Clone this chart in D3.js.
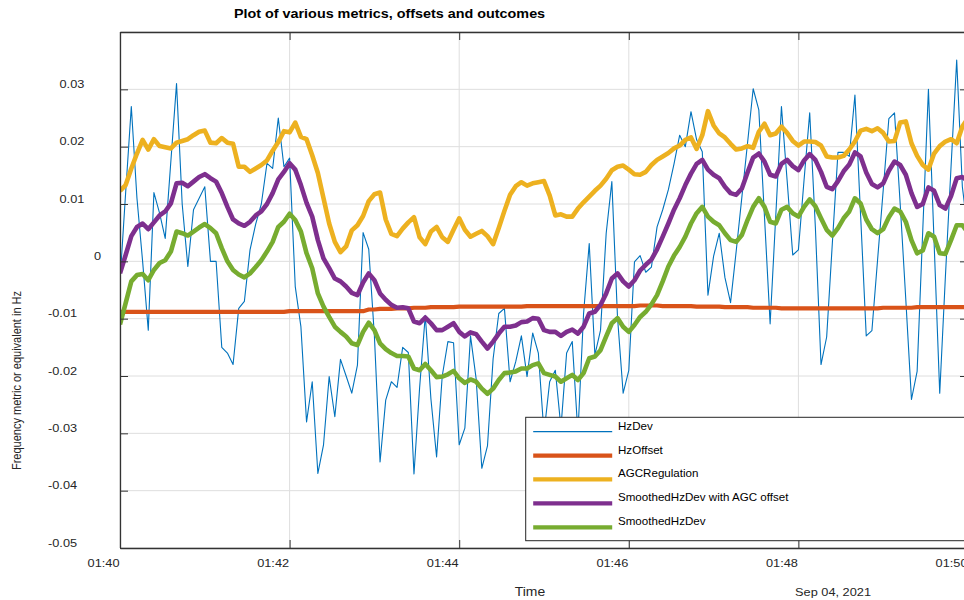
<!DOCTYPE html>
<html>
<head>
<meta charset="utf-8">
<script src="https://cdn.jsdelivr.net/npm/d3@7"></script>
<style>
  html, body { margin: 0; padding: 0; background: #ffffff; overflow: hidden; }
  svg { display: block; font-family: "Liberation Sans", Arial, Helvetica, sans-serif; }
</style>
</head>
<body>
<svg id="chart" width="964" height="600"></svg>
<script>
// ---- time base (one sample every 4 s) ----
const startTime = "2021-09-04T01:40:00Z";
const endTime = "2021-09-04T01:50:00Z";
const sampleSeconds = 4;
const dateLabel = "Sep 04, 2021";

// ---- axis ticks ----
const yTickValues = [-0.05, -0.04, -0.03, -0.02, -0.01, 0, 0.01, 0.02, 0.03];
const yGridValues = [-0.05, -0.04, -0.03, -0.02, -0.01, 0, 0.01, 0.02, 0.03, 0.04];
const xTickMinutes = 2;

// ---- legend entries, in drawing order ----
const seriesNames = ["HzDev", "HzOffset", "AGCRegulation", "SmoothedHzDev with AGC offset", "SmoothedHzDev"];

// ---- series values, in mHz ----
const hzDev = [
  -3.5, 12.0, 27.0, 11.0, 0.0, -12.0, 12.0, 8.4, 4.0, 17.5,
  31.0, 10.0, -0.9, 9.0, 11.0, 13.0, 0.0, 0.0, -15.0, -16.0,
  -18.0, -8.2, -7.0, 2.0, 6.5, 10.0, 17.1, 16.2, 25.0, 16.5,
  18.0, -4.4, -11.4, -28.0, -21.0, -37.0, -32.0, -20.1, -27.1, -17.1,
  -20.0, -23.0, -18.1, 5.0, 2.1, -13.0, -35.0, -24.2, -21.0, -22.0,
  -15.0, -15.9, -37.1, -22.0, -9.4, -24.0, -34.1, -20.0, -14.0, -14.2,
  -32.0, -29.1, -13.0, -20.5, -36.1, -32.2, -17.0, -9.1, -8.2, -21.0,
  -17.5, -13.0, -20.1, -12.5, -16.0, -30.0, -21.0, -19.0, -29.0, -16.0,
  -14.0, -30.0, -9.1, 3.1, -16.3, -12.0, 4.9, 13.9, -9.7, -23.0,
  -19.0, -0.1, 1.0, -1.9, -1.0, 6.0, 9.0, 12.5, 17.0, 22.0,
  20.0, 26.1, 21.2, 19.1, -5.9, 0.9, 4.9, -2.8, -7.2, 1.8,
  11.2, 20.6, 30.1, 26.4, 7.8, -10.9, 8.0, 27.0, 14.2, 1.1,
  2.0, 14.2, 25.9, 6.0, -18.0, -13.2, 3.1, 19.0, 19.0, 18.3,
  29.0, 8.1, -13.0, -12.1, 0.2, 12.4, 24.9, 25.9, 10.1, -6.7,
  -24.1, -19.2, 5.5, 30.0, 3.4, -23.0, -2.7, 16.5, 35.1, 13.0,
  5.0
];

const hzOffset = [
  -8.8, -8.8, -8.8, -8.8, -8.8, -8.8, -8.8, -8.8, -8.8, -8.8,
  -8.8, -8.8, -8.8, -8.8, -8.8, -8.8, -8.8, -8.8, -8.8, -8.8,
  -8.8, -8.8, -8.8, -8.8, -8.8, -8.8, -8.8, -8.8, -8.8, -8.8,
  -8.7, -8.7, -8.7, -8.7, -8.7, -8.7, -8.7, -8.7, -8.7, -8.7,
  -8.7, -8.7, -8.7, -8.7, -8.4, -8.4, -8.3, -8.3, -8.3, -8.2,
  -8.2, -8.2, -8.1, -8.1, -8.1, -8.0, -8.0, -8.0, -8.0, -8.0,
  -7.9, -7.9, -7.9, -7.9, -7.9, -7.9, -7.9, -7.9, -7.9, -7.9,
  -7.9, -7.9, -7.8, -7.8, -7.8, -7.8, -7.8, -7.8, -7.8, -7.8,
  -7.8, -7.8, -7.8, -7.8, -7.8, -7.8, -7.8, -7.8, -7.8, -7.8,
  -7.8, -7.8, -7.7, -7.7, -7.7, -7.7, -7.8, -7.8, -7.8, -7.8,
  -7.8, -7.8, -7.9, -7.9, -7.9, -7.9, -7.9, -8.0, -8.0, -8.0,
  -8.0, -8.0, -8.1, -8.1, -8.1, -8.1, -8.1, -8.2, -8.2, -8.2,
  -8.2, -8.2, -8.2, -8.2, -8.2, -8.2, -8.2, -8.2, -8.2, -8.2,
  -8.2, -8.2, -8.2, -8.2, -8.2, -8.1, -8.1, -8.1, -8.1, -8.1,
  -8.1, -8.0, -8.0, -8.0, -8.0, -8.0, -8.0, -8.0, -8.0, -8.0,
  -8.0
];

const agcRegulation = [
  12.3, 13.3, 16.2, 18.8, 21.2, 19.5, 21.3, 20.1, 19.9, 19.7,
  20.7, 21.0, 21.3, 22.0, 22.6, 22.8, 20.7, 20.6, 21.5, 20.7,
  20.5, 16.5, 16.5, 15.6, 16.2, 16.8, 17.6, 19.3, 20.8, 22.7,
  22.5, 24.2, 21.7, 21.3, 18.5, 15.4, 11.0, 6.6, 3.4, 1.6,
  2.6, 5.4, 6.3, 7.9, 10.5, 11.7, 12.0, 7.3, 4.8, 4.4,
  5.7, 6.8, 7.7, 4.2, 3.0, 5.2, 6.0, 4.2, 3.4, 5.5,
  7.5, 5.5, 4.3, 4.8, 5.3, 4.4, 3.0, 5.8, 8.8, 11.6,
  13.1, 13.8, 13.2, 13.6, 13.8, 14.0, 11.5, 8.0, 8.2, 7.8,
  7.8, 9.2, 10.3, 11.3, 12.3, 13.2, 14.4, 15.9, 16.5, 16.7,
  16.0, 15.2, 15.1, 15.6, 16.8, 17.7, 18.3, 18.9, 19.7, 20.2,
  21.2, 21.6, 19.6, 22.0, 26.2, 23.7, 22.3, 21.6, 20.5, 19.5,
  19.7, 20.1, 19.8, 22.6, 24.0, 22.0, 22.3, 23.5, 22.4, 21.0,
  20.2, 20.9, 20.9, 20.8, 20.2, 18.3, 18.1, 18.1, 18.4, 19.5,
  20.9, 22.8, 23.1, 22.7, 23.2, 22.4, 20.9, 21.0, 24.2, 24.4,
  20.6, 18.4, 16.8, 16.0, 18.8, 20.1, 20.9, 21.3, 20.6, 23.5,
  25.0
];

const smoothedWithAgc = [
  -2.1, 1.1, 4.4, 6.0, 6.6, 5.6, 6.8, 8.0, 8.7, 10.1,
  13.6, 13.7, 13.1, 13.9, 14.7, 15.2, 14.5, 13.9, 11.9, 9.5,
  7.3, 6.6, 6.2, 6.9, 8.0, 8.7, 10.0, 11.9, 14.3, 15.6,
  17.1, 16.0, 13.3, 10.2, 7.8, 3.7, 0.5, -1.2, -3.0, -3.5,
  -4.4, -5.5, -5.9, -3.7, -2.1, -3.3, -5.6, -6.7, -7.6, -8.1,
  -8.0, -8.2, -10.5, -10.8, -9.8, -10.8, -12.0, -12.0, -11.4, -10.8,
  -12.3, -13.1, -12.4, -12.7, -14.0, -15.2, -14.0, -12.6, -11.4, -11.4,
  -11.2, -10.6, -10.5, -9.9, -10.0, -12.0, -12.3, -12.3, -13.0, -12.3,
  -11.9, -12.6, -11.4, -9.1, -8.8, -7.6, -5.6, -3.0, -2.1, -3.5,
  -4.4, -3.3, -1.6, -0.6, 0.3, 2.1, 4.3, 6.6, 9.0, 11.0,
  13.3, 15.3, 17.0, 17.7, 16.0, 15.1, 14.5, 13.0, 11.9, 11.6,
  12.7, 15.5, 18.1, 18.8, 17.4, 15.1, 14.8, 17.0, 17.7, 16.6,
  15.9, 17.6, 18.7, 17.7, 15.6, 13.0, 12.6, 14.0, 15.7, 16.9,
  19.0, 18.3, 15.5, 13.5, 12.9, 13.6, 15.8, 17.4, 16.8, 15.1,
  11.9, 9.5, 10.0, 12.9, 12.3, 9.8, 9.2, 11.4, 14.5, 14.7,
  14.0
];

const smoothedHzDev = [
  -11.0, -7.3, -3.5, -2.4, -2.2, -3.3, -1.5, -0.3, 0.2, 1.7,
  5.2, 4.9, 4.5, 5.2, 5.9, 6.5, 5.8, 4.9, 2.3, 0.0,
  -1.5, -2.3, -2.8, -2.1, -1.0, 0.2, 1.7, 3.4, 6.0, 6.9,
  8.3, 7.2, 5.2, 1.4, -1.2, -5.6, -7.9, -9.7, -11.4, -12.3,
  -13.1, -14.3, -14.6, -12.3, -10.7, -12.0, -14.3, -15.3, -16.0, -16.5,
  -16.5, -16.6, -18.7, -19.0, -17.9, -19.0, -20.2, -20.1, -19.7, -19.1,
  -20.4, -21.2, -20.6, -21.0, -22.2, -23.1, -22.2, -20.7, -19.5, -19.4,
  -19.2, -18.7, -18.7, -18.1, -17.8, -19.5, -19.8, -20.1, -21.0, -20.4,
  -19.8, -20.7, -19.5, -16.9, -16.6, -15.5, -13.1, -10.8, -9.9, -11.4,
  -12.3, -11.1, -9.7, -8.8, -7.5, -5.9, -3.5, -0.9, 1.0, 2.5,
  4.3, 6.6, 8.4, 9.5, 7.8, 6.9, 6.3, 4.9, 3.7, 3.4,
  4.6, 7.2, 9.5, 11.0, 9.5, 6.9, 6.6, 9.0, 9.5, 8.4,
  7.8, 9.5, 10.8, 9.6, 7.5, 5.5, 4.5, 5.8, 7.5, 8.7,
  11.0, 10.1, 7.3, 5.6, 4.9, 5.6, 7.7, 9.2, 8.7, 6.9,
  3.7, 1.4, 1.9, 4.9, 4.3, 1.4, 1.3, 3.7, 6.3, 6.3,
  5.0
];

// ---- styling ----
const seriesColors = ["#0072BD", "#D95319", "#EDB120", "#7E2F8E", "#77AC30"];
const seriesWidths = [1.1, 4.2, 4.6, 4.6, 4.6];
const seriesValues = [hzDev, hzOffset, agcRegulation, smoothedWithAgc, smoothedHzDev];

const plot = { left: 120, top: 32, right: 968, bottom: 548 };
const textStretch = 1.16;
const axisColor = "#333333";
const labelColor = "#262626";
const gridColor = "#dedede";

const svg = d3.select("#chart");

const t0 = new Date(startTime);
const t1 = new Date(endTime);
const times = hzDev.map((_, i) => new Date(t0.getTime() + i * sampleSeconds * 1000));

const x = d3.scaleUtc().domain([t0, t1]).range([plot.left, plot.right]);
const y = d3.scaleLinear().domain([-0.05, 0.04]).range([plot.bottom, plot.top]);
const xTicks = x.ticks(d3.utcMinute.every(xTickMinutes));

// stretched text helper (labels are drawn slightly wide)
function stretched(sel, tx, ty, extra) {
  sel.attr("x", 0).attr("y", 0)
     .attr("transform", `translate(${tx},${ty}) scale(${textStretch},1)` + (extra || ""));
}

// ---- grid ----
const grid = svg.append("g");
grid.selectAll("line.v").data(xTicks).join("line")
  .attr("x1", d => x(d)).attr("x2", d => x(d))
  .attr("y1", plot.top).attr("y2", plot.bottom)
  .attr("stroke", gridColor).attr("stroke-width", 1);
grid.selectAll("line.h").data(yGridValues).join("line")
  .attr("x1", plot.left).attr("x2", plot.right)
  .attr("y1", d => y(d)).attr("y2", d => y(d))
  .attr("stroke", gridColor).attr("stroke-width", 1);

// ---- series ----
svg.append("clipPath").attr("id", "plotClip")
  .append("rect")
  .attr("x", plot.left).attr("y", plot.top)
  .attr("width", plot.right - plot.left).attr("height", plot.bottom - plot.top);

const lineGen = d3.line()
  .x((d, i) => x(times[i]))
  .y(d => y(d / 1000));

const lines = svg.append("g").attr("clip-path", "url(#plotClip)");
seriesValues.forEach((vals, s) => {
  lines.append("path")
    .datum(vals)
    .attr("d", lineGen)
    .attr("fill", "none")
    .attr("stroke", seriesColors[s])
    .attr("stroke-width", seriesWidths[s])
    .attr("stroke-linejoin", "round")
    .attr("stroke-linecap", "butt");
});

// ---- axes (ticks point inward) ----
const fmtY = d => (d === 0 ? "0" : d3.format(".2f")(d).replace("\u2212", "-"));

const xAxisBottom = svg.append("g")
  .attr("transform", `translate(0,${plot.bottom})`)
  .call(d3.axisBottom(x).ticks(d3.utcMinute.every(xTickMinutes))
        .tickFormat(d3.utcFormat("%H:%M")).tickSize(-8).tickSizeOuter(0));
xAxisBottom.selectAll("text")
  .attr("text-anchor", "end").attr("dy", null)
  .attr("font-size", 11).attr("fill", labelColor)
  .each(function () { stretched(d3.select(this), -1, 19); });

const xAxisTop = svg.append("g")
  .attr("transform", `translate(0,${plot.top})`)
  .call(d3.axisTop(x).ticks(d3.utcMinute.every(xTickMinutes))
        .tickFormat("").tickSize(-8).tickSizeOuter(0));

const yAxisLeft = svg.append("g")
  .attr("transform", `translate(${plot.left},0)`)
  .call(d3.axisLeft(y).tickValues(yTickValues).tickFormat(fmtY)
        .tickSize(-8).tickSizeOuter(0));
yAxisLeft.select(".domain").attr("d", `M0.5,${plot.top}V${plot.bottom}`);
yAxisLeft.selectAll("text")
  .attr("text-anchor", "start").attr("dy", null)
  .attr("font-size", 11).attr("fill", labelColor)
  .each(function (d) {
    const n = fmtY(d).length;
    stretched(d3.select(this), -14.5 - 11.5 * n, -2);
  });

const yAxisRight = svg.append("g")
  .attr("transform", `translate(${plot.right},0)`)
  .call(d3.axisRight(y).tickValues(yTickValues).tickFormat("")
        .tickSize(-8).tickSizeOuter(0));

[xAxisBottom, xAxisTop, yAxisLeft, yAxisRight].forEach(g => {
  g.attr("font-family", null);
  g.selectAll(".domain").attr("stroke", axisColor).attr("stroke-width", 1.3);
  g.selectAll(".tick line").attr("stroke", axisColor).attr("stroke-width", 1);
});

// ---- titles ----
svg.append("text").text("Plot of various metrics, offsets and outcomes")
  .attr("text-anchor", "middle").attr("font-weight", "bold")
  .attr("font-size", 12.4).attr("fill", "#000")
  .call(s => stretched(s, 389.5, 17.5));

svg.append("text").text("Time")
  .attr("text-anchor", "middle").attr("font-size", 12).attr("fill", labelColor)
  .call(s => stretched(s, 530, 596));

svg.append("text").text(dateLabel)
  .attr("text-anchor", "end").attr("font-size", 11).attr("fill", labelColor)
  .call(s => stretched(s, plot.right - 97, 596));

svg.append("text").text("Frequency metric or equivalent in Hz")
  .attr("text-anchor", "middle").attr("font-size", 11).attr("fill", labelColor)
  .call(s => stretched(s, 20.8, 380.5, " rotate(-90)"));

// ---- legend ----
const legend = svg.append("g").attr("transform", "translate(525.7,417.3)");
legend.append("rect")
  .attr("x", 0).attr("y", 0).attr("width", 470).attr("height", 123.4)
  .attr("fill", "#ffffff").attr("stroke", "#262626").attr("stroke-width", 1);
const rowY = d3.scalePoint().domain(seriesNames).range([14.3, 110]);
const rows = legend.selectAll("g.row").data(seriesNames).join("g")
  .attr("transform", d => `translate(0,${rowY(d)})`);
rows.append("line")
  .attr("x1", 7.5).attr("x2", 86.5).attr("y1", 0).attr("y2", 0)
  .attr("stroke", (d, i) => seriesColors[i])
  .attr("stroke-width", (d, i) => (i === 0 ? 1.1 : 4.2));
rows.append("text").text(d => d)
  .attr("font-size", 10).attr("fill", "#000")
  .each(function () { stretched(d3.select(this), 92.3, -2); });
</script>
</body>
</html>
